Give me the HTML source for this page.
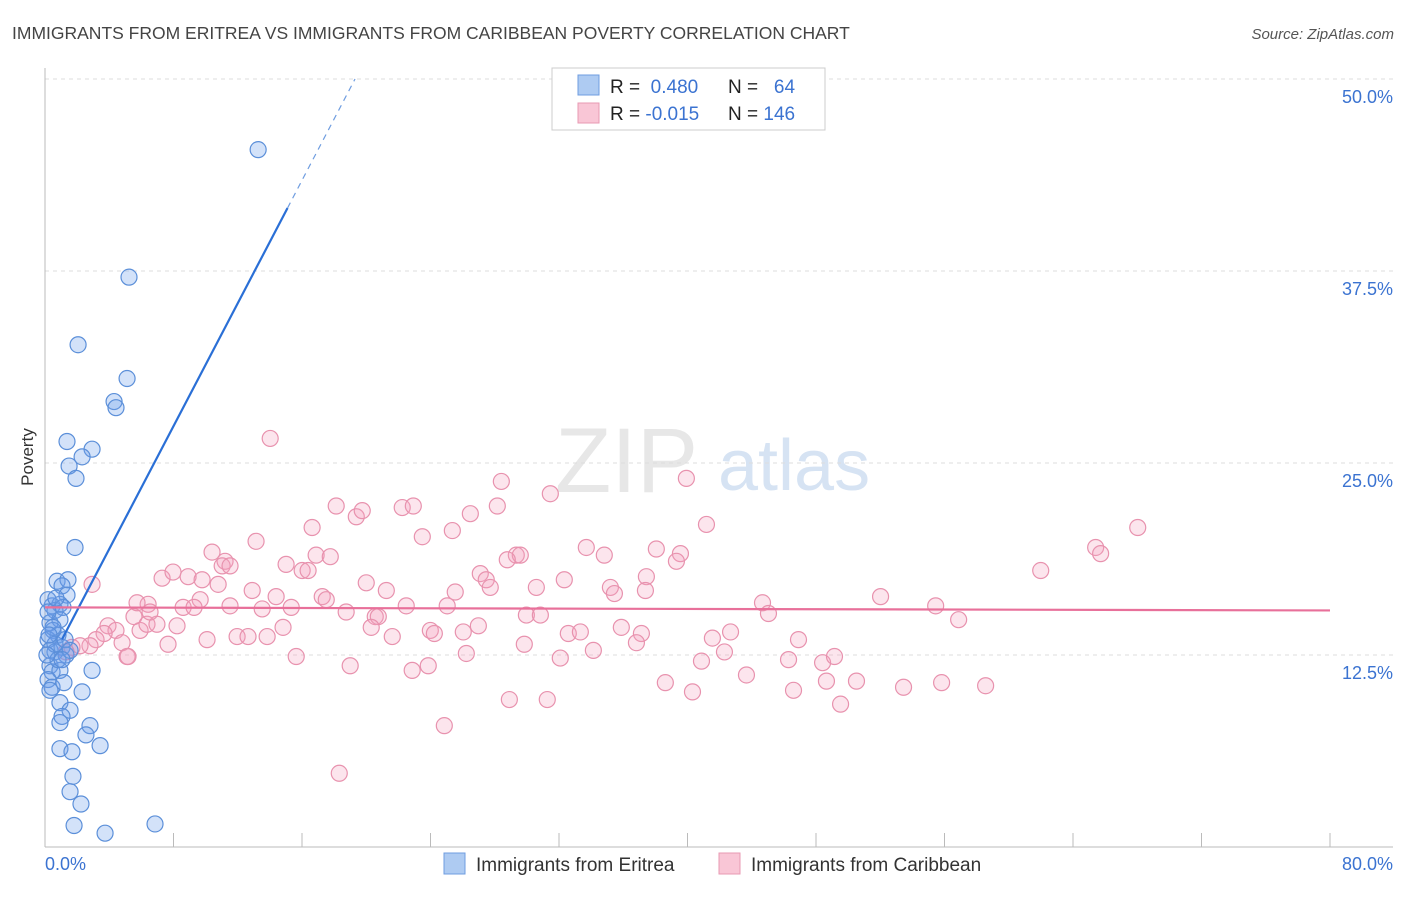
<!DOCTYPE html>
<html><head><meta charset="utf-8"><style>
body{margin:0;background:#fff;font-family:"Liberation Sans",sans-serif;}
svg text{font-family:"Liberation Sans",sans-serif;}
</style></head><body>
<svg id="chart" width="1406" height="892" viewBox="0 0 1406 892" xmlns="http://www.w3.org/2000/svg">
<text x="12" y="39" font-size="17.5" fill="#444">IMMIGRANTS FROM ERITREA VS IMMIGRANTS FROM CARIBBEAN POVERTY CORRELATION CHART</text>
<text x="1394" y="39" font-size="15" fill="#555" text-anchor="end" font-style="italic">Source: ZipAtlas.com</text>
<g>
<text x="555" y="492" font-size="92" fill="#ddd" font-family="Liberation Serif" opacity="0.7">ZIP</text>
<text x="718" y="490" font-size="72" fill="#c6d8ef" opacity="0.7">atlas</text>
</g>
<g id="grid"></g>
<g id="axes"></g>
<g id="marks"></g>
<text transform="translate(33,457) rotate(-90)" font-size="17" fill="#333" text-anchor="middle">Poverty</text>
<g>
<rect x="552" y="68" width="273" height="62" fill="#fff" stroke="#ccc"/>
<rect x="578" y="75" width="21" height="20" fill="#aecbf2" stroke="#6f9de0"/>
<rect x="578" y="103" width="21" height="20" fill="#f9c6d6" stroke="#e89ab3"/>
<text x="610" y="93" font-size="19" fill="#222">R = <tspan fill="#3b73d1">&#160;0.480</tspan></text>
<text x="728" y="93" font-size="19" fill="#222">N = <tspan fill="#3b73d1">&#160;&#160;64</tspan></text>
<text x="610" y="120" font-size="19" fill="#222">R = <tspan fill="#3b73d1">-0.015</tspan></text>
<text x="728" y="120" font-size="19" fill="#222">N = <tspan fill="#3b73d1">146</tspan></text>
</g>
<g>
<rect x="444" y="853" width="21" height="21" fill="#aecbf2" stroke="#6f9de0"/>
<text x="476" y="871" font-size="19" fill="#333">Immigrants from Eritrea</text>
<rect x="719" y="853" width="21" height="21" fill="#f9c6d6" stroke="#e89ab3"/>
<text x="751" y="871" font-size="19" fill="#333">Immigrants from Caribbean</text>
</g>
</svg>
<script>
const yTicks=[12.5,25,37.5,50];
const yTickLabels=["12.5%","25.0%","37.5%","50.0%"];
const xTickCount=10;
const xLabels=["0.0%","80.0%"];
const eritreaX=[13.27,5.23,2.06,5.11,4.30,4.42,1.37,2.93,2.31,1.50,1.93,1.87,.75,1.43,1.06,1.37,.44,.93,.62,1.12,.19,.31,.93,.50,.81,.19,.31,.62,1.06,1.31,.31,.44,.93,2.93,.19,.44,1.18,2.31,.93,1.56,1.06,.93,2.80,2.55,.93,1.68,3.43,1.74,1.56,2.24,1.81,3.74,6.85,.19,.62,.81,.31,1.25,.50,.12,.68,1.56,.25,1.06];
const eritreaY=[45.4,37.1,32.7,30.5,29.0,28.6,26.4,25.9,25.4,24.8,24.0,19.5,17.3,17.4,17.0,16.4,15.7,15.8,15.4,15.6,16.1,14.6,14.8,14.1,13.8,13.5,12.8,12.7,13.0,12.5,11.8,11.4,11.5,11.5,10.9,10.4,10.7,10.1,9.4,8.9,8.5,8.1,7.9,7.3,6.4,6.2,6.6,4.6,3.6,2.8,1.4,.9,1.5,15.3,13.2,12.2,10.2,13.5,14.3,12.5,16.2,12.8,13.8,12.2];
const caribX=[14.02,18.13,19.38,19.75,22.24,22.93,26.48,28.16,28.41,31.46,39.93,41.18,68.03,65.41,65.72,61.99,13.14,10.40,11.21,11.03,11.52,16.63,23.49,25.36,29.34,29.59,28.78,33.70,34.82,38.06,39.56,39.31,27.10,27.47,27.72,25.54,30.59,32.33,35.20,35.45,37.44,37.38,7.29,7.97,8.91,9.78,10.78,9.66,8.60,9.28,6.42,11.52,12.90,13.52,14.39,15.33,15.01,16.01,16.38,16.88,17.76,17.26,17.51,18.75,20.00,21.25,22.49,25.04,20.56,20.75,20.31,21.62,23.99,24.24,26.04,26.98,29.97,30.84,32.58,33.33,35.88,37.13,36.82,29.84,34.14,32.08,26.23,22.86,23.86,19.00,15.64,44.67,45.04,52.02,55.45,56.88,41.55,42.68,46.91,42.30,40.87,46.29,48.41,49.15,43.67,48.65,50.52,49.53,53.45,55.82,58.56,46.60,38.62,40.31,28.91,31.27,24.86,18.32,2.93,3.92,4.42,3.68,3.18,2.80,2.18,1.68,1.31,4.80,5.11,5.92,5.54,6.35,6.97,7.66,8.22,10.09,11.96,12.64,13.83,14.82,6.54,5.73,5.17];
const caribY=[26.6,22.2,21.5,21.9,22.1,22.2,21.7,22.2,23.8,23.0,24.0,21.0,20.8,19.5,19.1,18.0,19.9,19.2,18.6,18.3,18.3,20.8,20.2,20.6,19.0,19.0,18.7,19.5,19.0,19.4,19.1,18.6,17.8,17.4,16.9,16.6,16.9,17.4,16.9,16.5,17.6,16.7,17.5,17.9,17.6,17.4,17.1,16.1,15.6,15.6,15.8,15.7,16.7,15.5,16.3,15.6,18.4,18.0,18.0,19.0,18.9,16.3,16.1,15.3,17.2,16.7,15.7,15.7,15.0,15.0,14.3,13.7,14.1,13.9,14.0,14.4,15.1,15.1,13.9,14.0,14.3,13.9,13.3,13.2,12.8,12.3,12.6,11.5,11.8,11.8,12.4,15.9,15.2,16.3,15.7,14.8,13.6,14.0,13.5,12.7,12.1,12.2,12.0,12.4,11.2,10.8,10.8,9.3,10.4,10.7,10.5,10.2,10.7,10.1,9.6,9.6,7.9,4.8,17.1,14.4,14.1,13.9,13.5,13.1,13.1,13.0,12.7,13.3,12.4,14.1,15.0,14.5,14.5,13.2,14.4,13.5,13.7,13.7,13.7,14.3,15.3,15.9,12.4];
const eritreaTrend=[11.4,2.0]; // intercept, slope
const caribTrend=[15.6,15.4]; // at x=0, x=80

const X0=45,X1=1330,Y0=847,PXPERPCT=15.36;
const xs=v=>X0+v*(X1-X0)/80;
const ys=v=>Y0-v*PXPERPCT;
const NS="http://www.w3.org/2000/svg";
function mk(tag,parent){const e=document.createElementNS(NS,tag);parent.appendChild(e);return e;}
const grid=document.getElementById('grid'),axes=document.getElementById('axes'),marks=document.getElementById('marks');
yTicks.forEach((t,i)=>{
 const l=mk('line',grid);
 
 
 l.setAttribute('x1',X0);l.setAttribute('x2',1393);l.setAttribute('y1',ys(t));l.setAttribute('y2',ys(t));
 l.setAttribute('stroke','#ddd');l.setAttribute('stroke-dasharray','4,4');
 const tx=mk('text',grid);
 
 
 tx.setAttribute('x',1393);tx.setAttribute('y',ys(t)+24);tx.setAttribute('text-anchor','end');
 tx.setAttribute('font-size','18');tx.setAttribute('fill','#3b73d1');tx.textContent=yTickLabels[i];
});
const ya=mk('line',axes);


ya.setAttribute('x1',X0);ya.setAttribute('x2',X0);ya.setAttribute('y1',68);ya.setAttribute('y2',Y0);ya.setAttribute('stroke','#bbb');
const xa=mk('line',axes);


xa.setAttribute('x1',X0);xa.setAttribute('x2',1393);xa.setAttribute('y1',Y0);xa.setAttribute('y2',Y0);xa.setAttribute('stroke','#bbb');
for(let k=1;k<=xTickCount;k++){
 const t=mk('line',axes);
 
 
 const x=xs(80*k/xTickCount);
 t.setAttribute('x1',x);t.setAttribute('x2',x);t.setAttribute('y1',833);t.setAttribute('y2',Y0);t.setAttribute('stroke','#bbb');
}
[[0,'start',X0],[1,'end',1393]].forEach(([i,a,x])=>{
 const tx=mk('text',axes);
 
 
 tx.setAttribute('x',x);tx.setAttribute('y',870);tx.setAttribute('text-anchor',a);
 tx.setAttribute('font-size','18');tx.setAttribute('fill','#3b73d1');tx.textContent=xLabels[i];
});
function dots(X,Y,fill,stroke,name){
 X.forEach((v,i)=>{
  const c=mk('circle',marks);
  
  
  c.setAttribute('cx',xs(v));c.setAttribute('cy',ys(Y[i]));c.setAttribute('r',8);
  c.setAttribute('fill',fill);c.setAttribute('stroke',stroke);c.setAttribute('stroke-width','1.2');
 });
}
dots(caribX,caribY,'rgba(244,160,190,0.28)','#e892ae','caribbean-point');
dots(eritreaX,eritreaY,'rgba(110,160,235,0.3)','#5b8fd9','eritrea-point');
// trend lines
const bx0=1.06,bx1=15.1,bx2=19.3;
const f=x=>eritreaTrend[0]+eritreaTrend[1]*x;
const bl=mk('line',marks);


bl.setAttribute('x1',xs(bx0));bl.setAttribute('y1',ys(f(bx0)));bl.setAttribute('x2',xs(bx1));bl.setAttribute('y2',ys(f(bx1)));
bl.setAttribute('stroke','#2a6fd6');bl.setAttribute('stroke-width','2.2');
const bd=mk('line',marks);


bd.setAttribute('x1',xs(bx1));bd.setAttribute('y1',ys(f(bx1)));bd.setAttribute('x2',xs(bx2));bd.setAttribute('y2',ys(f(bx2)));
bd.setAttribute('stroke','#6f9de0');bd.setAttribute('stroke-width','1.2');bd.setAttribute('stroke-dasharray','6,5');
const pl=mk('line',marks);


pl.setAttribute('x1',xs(0));pl.setAttribute('y1',ys(caribTrend[0]));pl.setAttribute('x2',xs(80));pl.setAttribute('y2',ys(caribTrend[1]));
pl.setAttribute('stroke','#e8709a');pl.setAttribute('stroke-width','2.2');
</script>
</body></html>
